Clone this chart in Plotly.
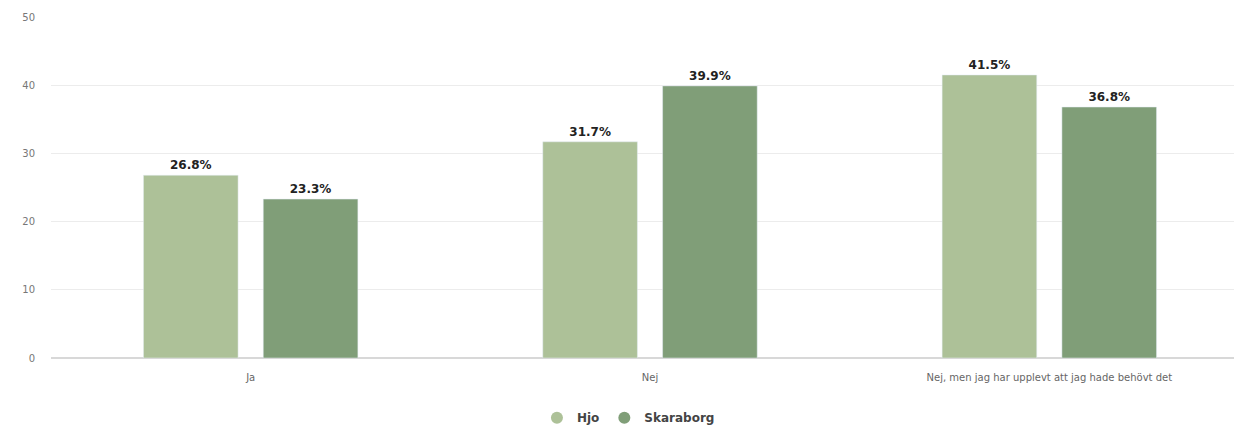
import plotly.graph_objects as go

categories = ["Ja", "Nej", "Nej, men jag har upplevt att jag hade behövt det"]
hjo = [26.8, 31.7, 41.5]
skaraborg = [23.3, 39.9, 36.8]
series_names = ["Hjo", "Skaraborg"]
colors = ["#adc198", "#809e78"]

fig = go.Figure()
for name, vals, c in zip(series_names, [hjo, skaraborg], colors):
    fig.add_trace(go.Bar(
        x=categories, y=vals, name=name, marker_color=c, showlegend=False,
        text=[f"{v:.1f}%" for v in vals], textposition="outside",
        textfont=dict(family="DejaVu Sans", size=12, color="#222222"),
        texttemplate="<b>%{text}</b>", cliponaxis=False,
    ))
for name, c in zip(series_names, colors):
    fig.add_trace(go.Scatter(
        x=[None], y=[None], mode="markers", name=f"<b>{name}</b>",
        marker=dict(symbol="circle", size=12, color=c),
    ))

fig.update_layout(
    width=1242, height=429,
    margin=dict(l=43, r=1, t=9, b=79, autoexpand=False),
    plot_bgcolor="white", paper_bgcolor="white",
    barmode="group", bargap=0.4, bargroupgap=0.21,
    font=dict(family="DejaVu Sans", size=10, color="#666666"),
    legend=dict(orientation="h", x=0.482, xanchor="center",
                yref="container", y=0.045, yanchor="middle",
                font=dict(size=12, color="#444444", family="DejaVu Sans"),
                itemwidth=30, tracegroupgap=0),
    xaxis=dict(showgrid=False, tickfont=dict(size=10, color="#666666"),
               showline=True, linecolor="#d8d8d8", ticks="", ticklabelstandoff=10),
    yaxis=dict(range=[0, 50], dtick=10, gridcolor="#ececec", zeroline=True,
               zerolinecolor="#d8d8d8", tickfont=dict(size=10, color="#777777"),
               ticklabelstandoff=15),
)
fig.write_html("out.html")
